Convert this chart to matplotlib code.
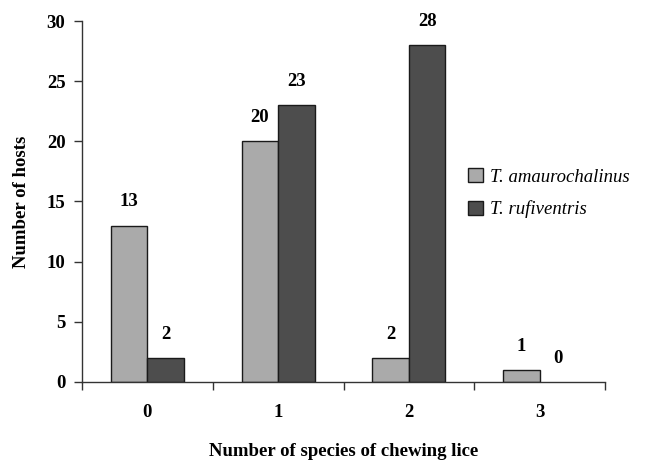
import matplotlib
matplotlib.use("Agg")

import numpy as np
import matplotlib.pyplot as plt

categories = ["0", "1", "2", "3"]
amaurochalinus = [13, 20, 2, 1]
rufiventris = [2, 23, 28, 0]
series_names = ["T. amaurochalinus", "T. rufiventris"]

plt.rcParams["font.family"] = ["Liberation Serif", "DejaVu Serif"]
fs = 13.5

fig = plt.figure(figsize=(6.46, 4.63), dpi=100)
ax = fig.add_axes([0.127, 0.175, 0.8095, 0.7796])

x = np.arange(len(categories))
w = 0.28
b1 = ax.bar(x - w / 2, amaurochalinus, w, color="#aaaaaa", edgecolor="#1a1a1a",
            linewidth=1.0, label=series_names[0])
b2 = ax.bar(x + w / 2, rufiventris, w, color="#4d4d4d", edgecolor="#1a1a1a",
            linewidth=1.0, label=series_names[1])

for bars, vals in [(b1, amaurochalinus), (b2, rufiventris)]:
    for rect, v in zip(bars, vals):
        if v == 0:
            rect.set_linewidth(0)
        ax.annotate(str(v), (rect.get_x() + rect.get_width() / 2, v),
                    xytext=(0, 17), textcoords="offset points",
                    ha="center", va="center", fontsize=fs, fontweight="bold")

ax.set_xlim(-0.5, len(categories) - 0.5)
ax.set_ylim(0, 30)
ax.set_yticks(range(0, 31, 5))
ax.set_xticks(x)
ax.set_xticklabels(categories)
ax.set_xticks(np.arange(-0.5, len(categories), 1.0), minor=True)
ax.tick_params(axis="x", which="major", length=0, pad=16)
ax.tick_params(axis="x", which="minor", length=6, width=1, color="#333333", direction="out")
ax.tick_params(axis="y", length=6, width=1, color="#333333", direction="out", pad=6)
for lab in ax.get_xticklabels() + ax.get_yticklabels():
    lab.set_fontsize(fs)
    lab.set_fontweight("bold")

for s in ["top", "right"]:
    ax.spines[s].set_visible(False)
for s in ["left", "bottom"]:
    ax.spines[s].set_color("#333333")
    ax.spines[s].set_linewidth(1)

ax.set_xlabel("Number of species of chewing lice", fontsize=fs, fontweight="bold", labelpad=16)
ax.set_ylabel("Number of hosts", fontsize=fs, fontweight="bold", labelpad=12)

leg = ax.legend(loc="upper left", bbox_to_anchor=(0.705, 0.64), frameon=False,
                prop={"style": "italic", "size": fs}, handlelength=0.8, handleheight=0.8,
                handletextpad=0.4, labelspacing=0.8)

fig.savefig("out.png", dpi=100)
